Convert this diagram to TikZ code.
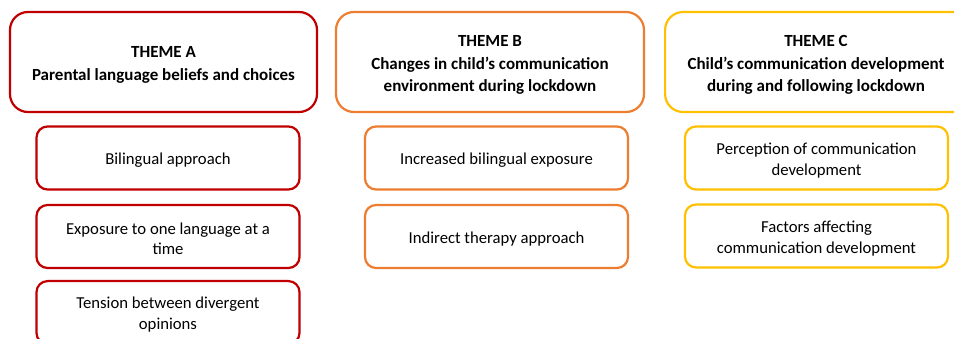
\documentclass[tikz,border=0pt]{standalone}
\usepackage{fontspec}
\setmainfont{Carlito}
\definecolor{themeA}{HTML}{C00000}
\definecolor{themeB}{HTML}{ED7D31}
\definecolor{themeC}{HTML}{FFC000}
\begin{document}
\begin{tikzpicture}[x=1pt,y=-1pt,
  headbox/.style={draw, line width=2.2pt, rounded corners=18pt, minimum width=308pt, minimum height=100pt, inner sep=0pt},
  subbox/.style={draw, line width=2.2pt, rounded corners=11pt, minimum width=263pt, minimum height=63pt, inner sep=0pt},
  headtext/.style={align=center, font=\fontsize{17}{22.5}\selectfont\bfseries, inner sep=0pt},
  subtext/.style={align=center, font=\fontsize{16.7}{20.5}\selectfont, inner sep=0pt}]
\useasboundingbox (0,0) rectangle (954,339);
\begin{scope}
\clip (0,0) rectangle (954,339);
% headers
\node[headbox, themeA, minimum width=307pt] (ha) at (163.5,62) {};
\node[headtext] (hat) at ([yshift=-3pt]ha.center) {THEME A\\Parental language beliefs and choices};
\node[headbox, themeB] (hb) at (490,62) {};
\node[headtext] (hbt) at ([yshift=-3pt]hb.center) {THEME B\\Changes in child’s communication\\environment during lockdown};
\node[headbox, themeC, anchor=west] (hc) at (664,62) {};
\node[headtext] (hct) at (816,65) {THEME C\\Child’s communication development\\during and following lockdown};
% theme A subs
\node[subbox, themeA] (a1) at (168,158) {};
\node[subtext] (a1t) at ([yshift=-2.5pt]a1.center) {Bilingual approach};
\node[subbox, themeA] (a2) at (168,236.5) {};
\node[subtext] (a2t) at ([yshift=-2.5pt]a2.center) {Exposure to one language at a\\time};
\node[subbox, themeA, anchor=north] (a3) at (168,280) {};
\node[subtext] (a3t) at (168,314.5) {Tension between divergent\\opinions};
% theme B subs
\node[subbox, themeB] (b1) at (496.5,158) {};
\node[subtext] (b1t) at ([yshift=-2.5pt]b1.center) {Increased bilingual exposure};
\node[subbox, themeB] (b2) at (496.5,236.5) {};
\node[subtext] (b2t) at ([yshift=-2.5pt]b2.center) {Indirect therapy approach};
% theme C subs
\node[subbox, themeC] (c1) at (816.5,158) {};
\node[subtext] (c1t) at ([yshift=-2.5pt]c1.center) {Perception of communication\\development};
\node[subbox, themeC] (c2) at (816.5,236) {};
\node[subtext] (c2t) at ([yshift=-2.5pt]c2.center) {Factors affecting\\communication development};
\end{scope}
\end{tikzpicture}
\end{document}
